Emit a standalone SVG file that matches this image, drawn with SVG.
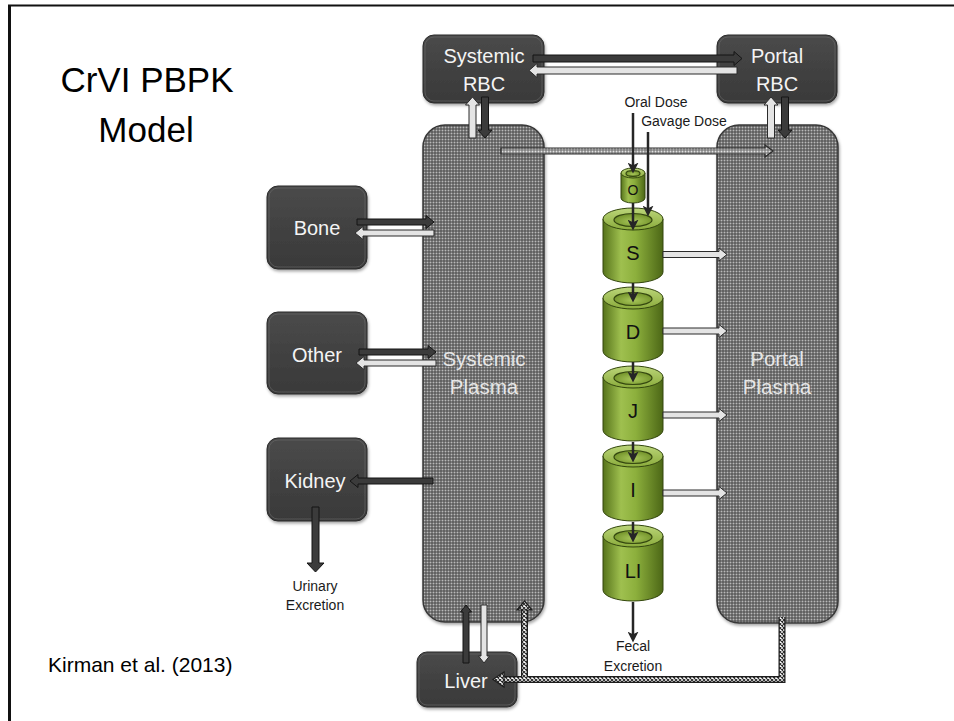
<svg xmlns="http://www.w3.org/2000/svg" width="954" height="721" viewBox="0 0 954 721">
  <defs>
    <style>
      .box { fill: url(#boxFill); stroke: #2a2a2a; stroke-width: 1; filter: url(#shadow); }
      .boxHi { fill: none; stroke: #6a6a6a; stroke-width: 1; opacity: 0.6; }
      .plasma { fill: url(#dots); stroke: #383838; stroke-width: 1.5; filter: url(#shadow); }
      .wl { font-family: "Liberation Sans", Arial, sans-serif; font-size: 20px; fill: #f4f4f4; text-anchor: middle; }
      .pl { font-family: "Liberation Sans", Arial, sans-serif; font-size: 20.5px; fill: #e6e6e6; text-anchor: middle; }
      .sm { font-family: "Liberation Sans", Arial, sans-serif; font-size: 14px; fill: #1a1a1a; text-anchor: middle; }
      .cl { font-family: "Liberation Sans", Arial, sans-serif; font-size: 20px; fill: #111; text-anchor: middle; }
      .ad { fill: #3b3b3b; stroke: #151515; stroke-width: 1; }
      .al { fill: #e4e4e4; stroke: #2b2b2b; stroke-width: 1; }
      .ap { fill: url(#dotsLight); stroke: #2b2b2b; stroke-width: 1.2; }
      .thin { fill: none; stroke: #262626; stroke-width: 2.5; marker-end: url(#ah); }
      .cylBody { fill: url(#cylBody); stroke: #34470f; stroke-width: 1; }
      .cylTop { fill: url(#cylTop); stroke: #34470f; stroke-width: 1; }
      .cylHole { fill: url(#cylHole); stroke: #34470f; stroke-width: 1.2; }
      .xOut { fill: none; stroke: #1e1e1e; stroke-width: 7; stroke-linejoin: miter; }
      .xIn { fill: none; stroke: url(#xh); stroke-width: 4.5; stroke-linejoin: miter; }
    </style>
    <linearGradient id="boxFill" x1="0" y1="0" x2="0" y2="1">
      <stop offset="0" stop-color="#4a4a4a"/>
      <stop offset="1" stop-color="#393939"/>
    </linearGradient>
    <!-- plasma texture: light dots on a dark ground -->
    <pattern id="dots" width="3" height="3" patternUnits="userSpaceOnUse">
      <rect width="3" height="3" fill="#454545"/>
      <rect x="0.5" y="0.5" width="2" height="2" fill="#b9b9b9"/>
    </pattern>
    <pattern id="dotsLight" width="3" height="3" patternUnits="userSpaceOnUse">
      <rect width="3" height="3" fill="#6a6a6a"/>
      <rect x="0.5" y="0.5" width="2" height="2" fill="#e2e2e2"/>
    </pattern>
    <pattern id="xh" width="4" height="4" patternUnits="userSpaceOnUse">
      <rect width="4" height="4" fill="#ffffff"/>
      <path d="M0,0 L4,4 M4,0 L0,4" stroke="#2a2a2a" stroke-width="1.1"/>
    </pattern>
    <linearGradient id="cylBody" x1="0" y1="0" x2="1" y2="0">
      <stop offset="0" stop-color="#56731b"/>
      <stop offset="0.3" stop-color="#9fc04f"/>
      <stop offset="0.55" stop-color="#8caf3c"/>
      <stop offset="1" stop-color="#4c6716"/>
    </linearGradient>
    <linearGradient id="cylTop" x1="0" y1="0" x2="0" y2="1">
      <stop offset="0" stop-color="#bcd67a"/>
      <stop offset="1" stop-color="#8aab3b"/>
    </linearGradient>
    <radialGradient id="cylHole" cx="0.5" cy="0.6" r="0.6">
      <stop offset="0" stop-color="#a8c75a"/>
      <stop offset="1" stop-color="#6f8f27"/>
    </radialGradient>
    <filter id="shadow" x="-10%" y="-10%" width="130%" height="130%">
      <feDropShadow dx="1" dy="2" stdDeviation="1.5" flood-color="#000" flood-opacity="0.35"/>
    </filter>
    <marker id="ah" viewBox="0 0 10 10" refX="4" refY="5" markerWidth="11" markerHeight="11" markerUnits="userSpaceOnUse" orient="auto">
      <path d="M0,0 L10,5 L0,10 L2.5,5 Z" fill="#262626"/>
    </marker>
  </defs>

  <!-- slide frame -->
  <path d="M9.5,721 V5.5" stroke="#111" stroke-width="3" fill="none"/>
  <path d="M8,5.5 H954" stroke="#111" stroke-width="2" fill="none"/>

  <!-- title and citation -->
  <g id="title">
    <text x="147" y="92" font-family="Liberation Sans, Arial, sans-serif" font-size="35" text-anchor="middle" fill="#000">CrVI PBPK</text>
    <text x="146" y="142" font-family="Liberation Sans, Arial, sans-serif" font-size="35" text-anchor="middle" fill="#000">Model</text>
  </g>
  <g id="citation">
    <text x="48" y="672" font-family="Liberation Sans, Arial, sans-serif" font-size="21" fill="#000">Kirman et al. (2013)</text>
  </g>

  <!-- plasma compartments -->
  <g id="systemic-plasma">
    <rect class="plasma" x="423" y="125" width="121" height="497" rx="22"/>
    <text class="pl" x="484" y="366">Systemic</text>
    <text class="pl" x="484" y="394">Plasma</text>
  </g>
  <g id="portal-plasma">
    <rect class="plasma" x="717" y="125" width="121" height="498" rx="22"/>
    <text class="pl" x="777" y="366">Portal</text>
    <text class="pl" x="777" y="394">Plasma</text>
  </g>

  <!-- tissue boxes -->
  <g id="systemic-rbc">
    <rect class="box" x="423" y="35" width="121" height="68" rx="11"/>
    <rect class="boxHi" x="425" y="37" width="117" height="64" rx="9"/>
    <text class="wl" x="484" y="63">Systemic</text>
    <text class="wl" x="484" y="91">RBC</text>
  </g>
  <g id="portal-rbc">
    <rect class="box" x="717" y="35" width="120" height="68" rx="11"/>
    <rect class="boxHi" x="719" y="37" width="116" height="64" rx="9"/>
    <text class="wl" x="777" y="63">Portal</text>
    <text class="wl" x="777" y="91">RBC</text>
  </g>
  <g id="bone">
    <rect class="box" x="267" y="186" width="100" height="83" rx="11"/>
    <rect class="boxHi" x="269" y="188" width="96" height="79" rx="9"/>
    <text class="wl" x="317" y="235">Bone</text>
  </g>
  <g id="other">
    <rect class="box" x="267" y="312" width="100" height="82" rx="11"/>
    <rect class="boxHi" x="269" y="314" width="96" height="78" rx="9"/>
    <text class="wl" x="317" y="362">Other</text>
  </g>
  <g id="kidney">
    <rect class="box" x="267" y="438" width="100" height="83" rx="11"/>
    <rect class="boxHi" x="269" y="440" width="96" height="79" rx="9"/>
    <text class="wl" x="315" y="488">Kidney</text>
  </g>
  <g id="liver">
    <rect class="box" x="417" y="652" width="100" height="55" rx="10"/>
    <rect class="boxHi" x="419" y="654" width="96" height="51" rx="8"/>
    <text class="wl" x="466" y="688">Liver</text>
  </g>

  <!-- gut lumen compartments -->
  <g id="gut-o">
    <path class="cylBody" d="M621,173 V198 A12,5 0 0 0 645,198 V173 Z"/>
    <ellipse class="cylTop" cx="633" cy="173" rx="12" ry="5"/>
    <ellipse class="cylHole" cx="633" cy="173.5" rx="7" ry="2.8"/>
    <text x="633" y="195" font-family="Liberation Sans, Arial, sans-serif" font-size="14" text-anchor="middle" fill="#111">O</text>
  </g>
  <g id="gut-s">
    <path class="cylBody" d="M603,219 V272 A30,11 0 0 0 663,272 V219 Z"/>
    <ellipse class="cylTop" cx="633" cy="219" rx="30" ry="11"/>
    <ellipse class="cylHole" cx="633" cy="220" rx="19" ry="6.5"/>
    <text class="cl" x="633" y="260">S</text>
  </g>
  <g id="gut-d">
    <path class="cylBody" d="M603,298 V351 A30,11 0 0 0 663,351 V298 Z"/>
    <ellipse class="cylTop" cx="633" cy="298" rx="30" ry="11"/>
    <ellipse class="cylHole" cx="633" cy="299" rx="19" ry="6.5"/>
    <text class="cl" x="633" y="339">D</text>
  </g>
  <g id="gut-j">
    <path class="cylBody" d="M603,377 V430 A30,11 0 0 0 663,430 V377 Z"/>
    <ellipse class="cylTop" cx="633" cy="377" rx="30" ry="11"/>
    <ellipse class="cylHole" cx="633" cy="378" rx="19" ry="6.5"/>
    <text class="cl" x="633" y="418">J</text>
  </g>
  <g id="gut-i">
    <path class="cylBody" d="M603,456 V510 A30,11 0 0 0 663,510 V456 Z"/>
    <ellipse class="cylTop" cx="633" cy="456" rx="30" ry="11"/>
    <ellipse class="cylHole" cx="633" cy="457" rx="19" ry="6.5"/>
    <text class="cl" x="633" y="497">I</text>
  </g>
  <g id="gut-li">
    <path class="cylBody" d="M603,536 V590 A30,11 0 0 0 663,590 V536 Z"/>
    <ellipse class="cylTop" cx="633" cy="536" rx="30" ry="11"/>
    <ellipse class="cylHole" cx="633" cy="537" rx="19" ry="6.5"/>
    <text class="cl" x="633" y="578">LI</text>
  </g>

  <!-- free labels -->
  <g id="labels">
    <text class="sm" x="656" y="107">Oral Dose</text>
    <text class="sm" x="684" y="126">Gavage Dose</text>
    <text class="sm" x="315" y="591">Urinary</text>
    <text class="sm" x="315" y="610">Excretion</text>
    <text class="sm" x="633" y="651">Fecal</text>
    <text class="sm" x="633" y="671">Excretion</text>
  </g>

  <!-- connectors -->
  <g id="connectors">
    <!-- systemic plasma to portal plasma -->
    <polygon class="ap" points="501,148 765,148 765,145 773,151 765,157 765,154 501,154"/>

    <!-- RBC exchange -->
    <polygon class="ad" points="533,55 734,55 734,51.5 742,58.5 734,65.5 734,62 533,62"/>
    <polygon class="al" points="737,67 537,67 537,63.5 529,70.5 537,77.5 537,74 737,74"/>
    <polygon class="al" points="469,138 469,105 465.5,105 472.5,97 479.5,105 476,105 476,138"/>
    <polygon class="ad" points="481.5,97 488.5,97 488.5,130 492,130 485,138 478,130 481.5,130"/>
    <polygon class="al" points="767.5,138 767.5,105 764,105 771,97 778,105 774.5,105 774.5,138"/>
    <polygon class="ad" points="781.5,97 788.5,97 788.5,130 792,130 785,138 778,130 781.5,130"/>

    <!-- tissues -->
    <polygon class="ad" points="357,219 426,219 426,215.5 434,222 426,228.5 426,225 357,225"/>
    <polygon class="al" points="434,230 363,230 363,226.5 355,233 363,239.5 363,236 434,236"/>
    <polygon class="ad" points="359,349 428,349 428,345.5 436,352 428,358.5 428,355 359,355"/>
    <polygon class="al" points="436,360 364,360 364,356.5 356,363 364,369.5 364,366 436,366"/>
    <polygon class="ad" points="433,478 358,478 358,474.5 350,481 358,487.5 358,484 433,484"/>
    <polygon class="ad" points="312,507 319,507 319,563 324,563 315.5,572 307,563 312,563"/>
    <polygon class="ad" points="463,663 463,612 460.5,612 466,605 471.5,612 469,612 469,663"/>
    <polygon class="al" points="481,605 487,605 487,656 489.5,656 484,663 478.5,656 481,656"/>

    <!-- gut absorption into portal plasma -->
    <polygon class="al" points="663,251.5 719,251.5 719,248 727,254.5 719,261 719,257.5 663,257.5"/>
    <polygon class="al" points="663,328 719,328 719,324.5 727,331 719,337.5 719,334 663,334"/>
    <polygon class="al" points="663,412 719,412 719,408.5 727,415 719,421.5 719,418 663,418"/>
    <polygon class="al" points="663,490 719,490 719,486.5 727,493 719,499.5 719,496 663,496"/>

    <!-- portal plasma to liver and systemic plasma -->
    <path class="xOut" d="M782,617 V679.5 H504"/>
    <path class="xOut" d="M524.5,679.5 V610"/>
    <path class="xIn" d="M782,617 V679.5 H504"/>
    <path class="xIn" d="M524.5,679.5 V610"/>
    <polygon points="504,672 493,679.5 504,687" fill="url(#xh)" stroke="#1e1e1e" stroke-width="1.2"/>
    <polygon points="517,610 524.5,601 532,610" fill="url(#xh)" stroke="#1e1e1e" stroke-width="1.2"/>

    <!-- dosing and gut transit -->
    <path class="thin" d="M633,113 V167"/>
    <path class="thin" d="M648,132 V210"/>
    <path class="thin" d="M633,203 V224"/>
    <path class="thin" d="M633,283 V296"/>
    <path class="thin" d="M633,362 V376"/>
    <path class="thin" d="M633,442 V456"/>
    <path class="thin" d="M633,522 V536"/>
    <path class="thin" d="M633,602 V636"/>
  </g>
</svg>
